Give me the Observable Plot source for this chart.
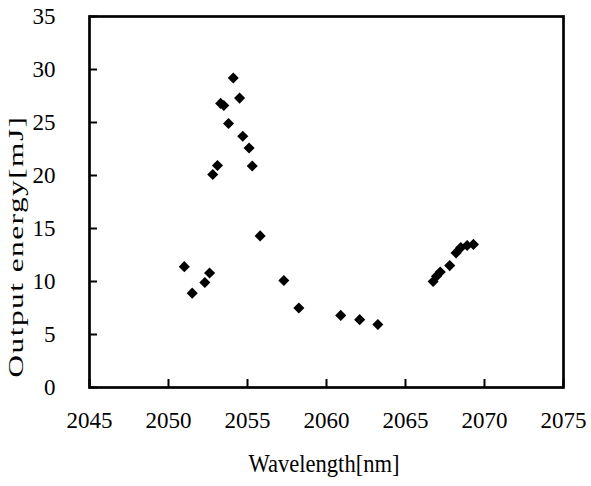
<!DOCTYPE html>
<html>
<head>
<meta charset="utf-8">
<script src="https://cdn.jsdelivr.net/npm/d3@7"></script>
<script src="https://cdn.jsdelivr.net/npm/@observablehq/plot@0.6"></script>
<style>
  html, body { margin: 0; padding: 0; background: #fff; }
  #chart svg { display: block; }
  #chart svg text { font-family: "Liberation Serif", "Times New Roman", "DejaVu Serif", serif; fill: #000; }
</style>
</head>
<body>
<div id="chart"></div>
<script>
const wavelength = [2051.0, 2051.5, 2052.3, 2052.6, 2052.8, 2053.1, 2053.3, 2053.5, 2053.8, 2054.1, 2054.5, 2054.7, 2055.1, 2055.3, 2055.8, 2057.3, 2058.25, 2060.9, 2062.1, 2063.25, 2066.75, 2066.96, 2067.2, 2067.8, 2068.2, 2068.5, 2068.9, 2069.3];
const energy = [11.4, 8.9, 9.9, 10.8, 20.1, 20.95, 26.8, 26.6, 24.9, 29.2, 27.3, 23.7, 22.6, 20.9, 14.3, 10.1, 7.5, 6.8, 6.4, 5.95, 10.0, 10.5, 10.9, 11.5, 12.7, 13.2, 13.4, 13.5];
const xTicks = [2045, 2050, 2055, 2060, 2065, 2070, 2075];
const yTicks = [0, 5, 10, 15, 20, 25, 30, 35];
const xLabel = "Wavelength[nm]";
const yLabel = "Output energy[mJ]";

const data = wavelength.map((w, i) => ({w, e: energy[i]}));

const plot = Plot.plot({
  width: 591,
  height: 486,
  marginLeft: 89,
  marginRight: 28,
  marginTop: 16,
  marginBottom: 99,
  style: "font-family: 'Liberation Serif', 'Times New Roman', serif; font-size: 23px; color: #000; background: #fff;",
  x: {domain: [2045, 2075]},
  y: {domain: [0, 35]},
  marks: [
    // inward ticks
    Plot.axisX({ticks: xTicks, tickSize: 8, dy: -8, strokeWidth: 2, tickFormat: () => "", label: null}),
    Plot.axisY({ticks: yTicks, tickSize: 8, dx: 8, strokeWidth: 2, tickFormat: () => "", label: null}),
    // tick labels
    Plot.axisX({ticks: xTicks, tickSize: 0, tickPadding: 24, tickFormat: d => String(d), label: null, fontSize: 23}),
    Plot.axisY({ticks: yTicks, tickSize: 0, tickPadding: 34, tickFormat: d => String(d), label: null, fontSize: 23}),
    Plot.frame({stroke: "#000", strokeWidth: 2.7}),
    Plot.dot(data, {x: "w", y: "e", symbol: "diamond2", r: 5, fill: "#000", stroke: "none"}),
    Plot.text([xLabel], {frameAnchor: "bottom-left", dx: 159, dy: 84, textAnchor: "start", text: d => d, fontSize: 25}),
    Plot.text([yLabel], {frameAnchor: "bottom-left", dx: -67, dy: -10, rotate: -90, textAnchor: "start", text: d => d, fontSize: 21})
  ]
});
document.getElementById("chart").appendChild(plot);

// the reference's axis titles are stretched/compressed along their length
d3.select(plot).selectAll("text").filter(function() { return this.textContent === yLabel; })
  .style("letter-spacing", "1px")
  .attr("textLength", 262).attr("lengthAdjust", "spacingAndGlyphs");
d3.select(plot).selectAll("text").filter(function() { return this.textContent === xLabel; })
  .attr("textLength", 151).attr("lengthAdjust", "spacingAndGlyphs");
</script>
</body>
</html>
